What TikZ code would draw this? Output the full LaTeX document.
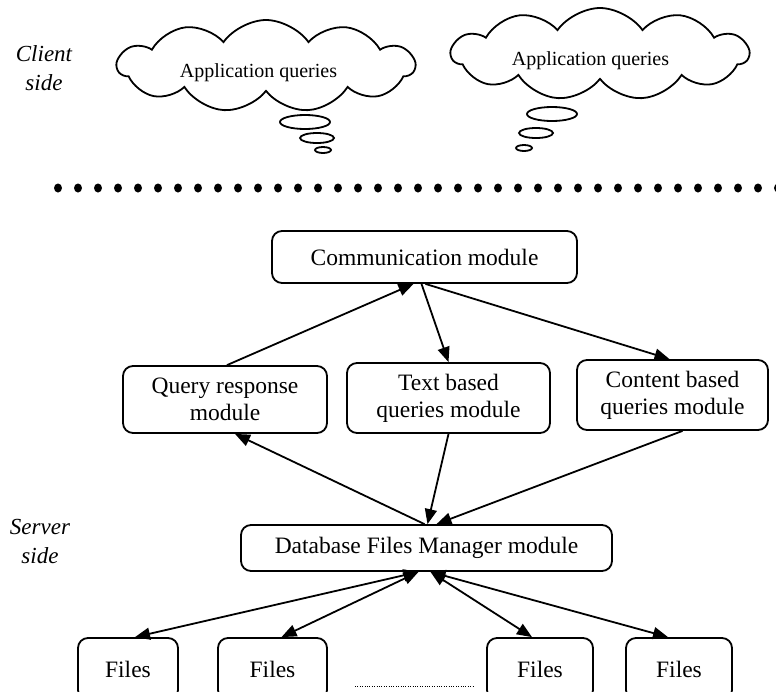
\documentclass[tikz,border=0pt]{standalone}
\usepackage{fontspec}
\setmainfont{Liberation Serif}
\usetikzlibrary{shapes.symbols,shapes.geometric,arrows.meta,calc}
\begin{document}
\begin{tikzpicture}[x=1pt,y=-1pt,
  box/.style={draw, line width=1.8pt, rounded corners=10pt, inner sep=0pt, font=\fontsize{23.5}{27}\selectfont, align=center},
  conn/.style={line width=1.8pt, -{Triangle[length=15pt,width=12pt]}},
  conntwo/.style={line width=1.8pt, {Triangle[length=15pt,width=12pt]}-{Triangle[length=15pt,width=12pt]}},
  thought/.style={cloud, draw, line width=1.8pt, cloud puffs=11, cloud puff arc=110, aspect=3.2, inner sep=0pt},
  cloudtext/.style={anchor=base, inner sep=0pt, font=\fontsize{20}{24}\selectfont},
  bubble/.style={ellipse, draw, line width=1.8pt, inner sep=0pt},
  sidelabel/.style={font=\fontsize{23}{29}\selectfont\itshape, align=center},
]
\useasboundingbox (0,0) rectangle (776,691);

% side labels
\node[sidelabel] (client) at (44,68) {Client\\side};
\node[sidelabel] (server) at (40,541) {Server\\side};

% clouds
\node[thought, minimum width=297pt, minimum height=92pt] (cloudA) at (266,66) {};
\node[cloudtext] (textA) at (258.5,77) {Application queries};
\node[bubble, minimum width=50pt, minimum height=14pt] (bA1) at (305,122) {};
\node[bubble, minimum width=34pt, minimum height=10pt] (bA2) at (317,138) {};
\node[bubble, minimum width=16pt, minimum height=6pt] (bA3) at (323,150) {};

\node[thought, minimum width=297pt, minimum height=92pt] (cloudB) at (600,54) {};
\node[cloudtext] (textB) at (590.5,65) {Application queries};
\node[bubble, minimum width=50pt, minimum height=14pt] (bB1) at (552,114) {};
\node[bubble, minimum width=34pt, minimum height=10pt] (bB2) at (536,133) {};
\node[bubble, minimum width=16pt, minimum height=6pt] (bB3) at (524,148) {};

% dotted separator
\foreach \i in {0,...,36} {
  \fill (58+20*\i,188) ellipse [x radius=4pt, y radius=4.5pt];
}

% modules
\node[box, minimum width=305pt, minimum height=52pt] (comm) at (424.5,257) {Communication module};
\node[box, minimum width=204pt, minimum height=67pt] (query) at (225,399.5) {Query response\\module};
\node[box, minimum width=203pt, minimum height=70pt] (text) at (448.5,398) {Text based\\queries module};
\node[box, minimum width=191pt, minimum height=70pt] (content) at (672.5,395) {Content based\\queries module};
\node[box, minimum width=371pt, minimum height=46pt] (db) at (426.5,548) {Database Files Manager module};

\node[box, minimum width=100pt, minimum height=62pt] (f1) at (128,669) {Files};
\node[box, minimum width=109pt, minimum height=62pt] (f2) at (272.5,669) {Files};
\node[box, minimum width=106pt, minimum height=62pt] (f3) at (540,669) {Files};
\node[box, minimum width=106pt, minimum height=62pt] (f4) at (679,669) {Files};

% connectors
\draw[conn] ([xshift=2pt]query.north) -- ([xshift=-11pt]comm.south);
\draw[conn] ([xshift=-3pt]comm.south) -- (text.north);
\draw[conn] ([xshift=1pt]comm.south) -- ([xshift=-3pt]content.north);

\draw[conn] ([xshift=-2pt]db.north) -- ([xshift=10pt]query.south);
\draw[conn] (text.south) -- ([xshift=1pt]db.north);
\draw[conn] ([xshift=10pt]content.south) -- ([xshift=10pt]db.north);

\draw[conntwo] ([xshift=-8pt]db.south) -- ([xshift=7pt]f1.north);
\draw[conntwo] ([xshift=-8pt]db.south) -- ([xshift=9pt]f2.north);
\draw[conntwo] ([xshift=4pt]db.south) -- ([xshift=-8pt]f3.north);
\draw[conntwo] ([xshift=4pt]db.south) -- ([xshift=-11pt]f4.north);

% short dotted line between files
\coordinate (dl) at (355,686);
\coordinate (dr) at (473,686);
\draw[line width=1pt, dash pattern=on 1pt off 1.4pt] (dl) -- (dr);
\end{tikzpicture}
\end{document}
